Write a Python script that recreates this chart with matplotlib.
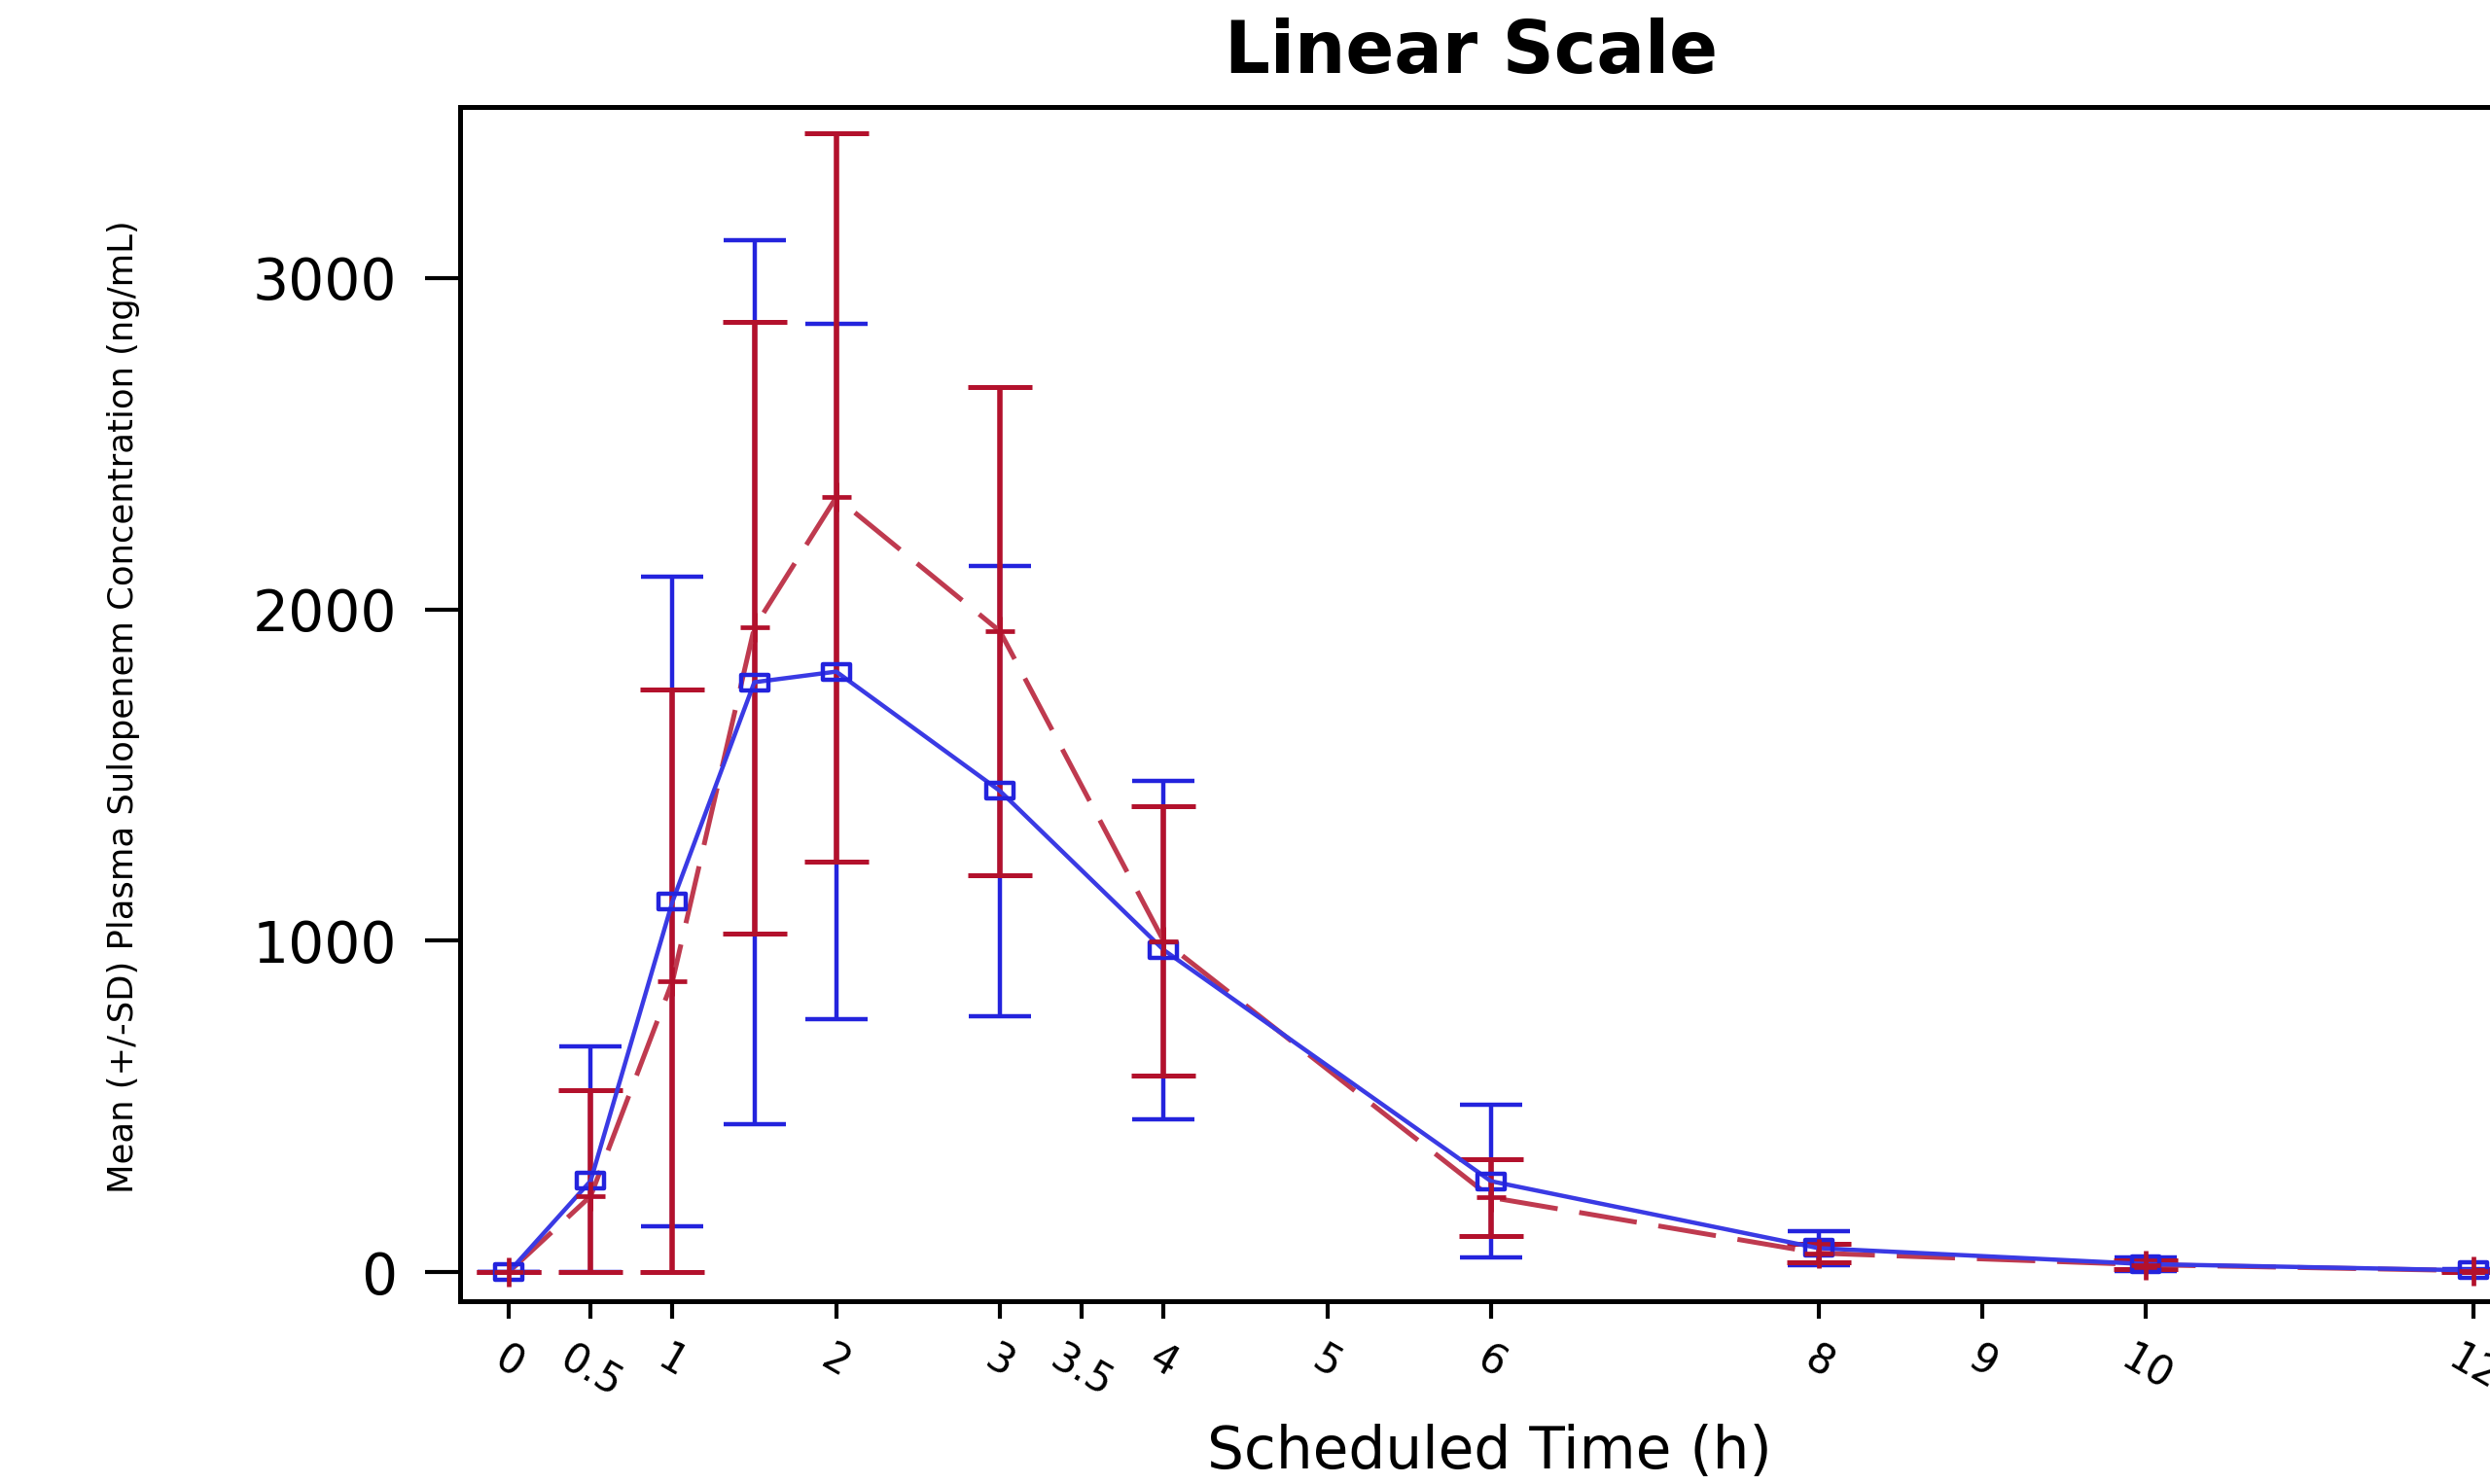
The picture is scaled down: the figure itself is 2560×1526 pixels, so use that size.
import numpy as np
import matplotlib
matplotlib.use('Agg')
import matplotlib.pyplot as plt
from matplotlib import font_manager
from matplotlib.path import Path

# scheduled sampling times (h) and the two treatment groups
time = [0, 0.5, 1, 1.5, 2, 3, 4, 6, 8, 10, 12]
blue_mean = [0, 275, 1118, 1780, 1812, 1452, 972, 274, 72, 24, 5]
blue_sd = [0, 405, 980, 1333, 1050, 680, 510, 230, 52, 20, 4]
red_mean = [0, 229, 878, 1945, 2338, 1934, 999, 225, 57, 22, 4]
red_sd = [0, 321, 880, 923, 1100, 737, 407, 115, 27, 14, 3]

xticks = [0, 0.5, 1, 2, 3, 3.5, 4, 5, 6, 8, 9, 10, 12]
xtick_labels = ['0', '0.5', '1', '2', '3', '3.5', '4', '5', '6', '8', '9', '10', '12']
yticks = [0, 1000, 2000, 3000]

BLUE = '#2323dd'
RED = '#b3112c'

installed = {f.name for f in font_manager.fontManager.ttflist}
if 'Liberation Sans Narrow' in installed:
    ylab_font, ylab_size = ['Liberation Sans Narrow', 'DejaVu Sans'], 32
else:
    ylab_font, ylab_size = ['DejaVu Sans'], 25.5

plt.rcParams['font.family'] = ['DejaVu Sans']

fig = plt.figure(figsize=(25.6, 15.26), dpi=100)
ax = fig.add_axes([0.1848, 0.1232, 0.8414, 0.8047])


def err_bounds(mean, sd):
    mean = np.array(mean, dtype=float)
    sd = np.array(sd, dtype=float)
    lower = np.minimum(sd, mean)  # bars stop at zero
    return np.vstack([lower, sd])


# box-ish marker, wider than tall like the original
rect = Path([(-1, -0.55), (1, -0.55), (1, 0.55), (-1, 0.55), (-1, -0.55)],
            [Path.MOVETO, Path.LINETO, Path.LINETO, Path.LINETO, Path.CLOSEPOLY])

ax.errorbar(time, blue_mean, yerr=err_bounds(blue_mean, blue_sd), fmt='none',
            ecolor=BLUE, elinewidth=3.2, capsize=23, capthick=3.2, zorder=2)
ax.errorbar(time, red_mean, yerr=err_bounds(red_mean, red_sd), fmt='none',
            ecolor=RED, elinewidth=4.0, capsize=23.5, capthick=3.6, zorder=3)

ax.plot(time, red_mean, color='#bf3a4f', lw=3.6, dashes=(12, 4.5), zorder=4)
ax.plot(time, blue_mean, color='#3a3ae4', lw=3.2, marker=rect, markersize=20,
        markerfacecolor='none', markeredgecolor=BLUE, markeredgewidth=3.2, zorder=5)
ax.plot(time, red_mean, linestyle='none', marker='+', markersize=21,
        markeredgecolor=RED, markeredgewidth=3.4, zorder=6)

ax.set_xlim(-0.297, 12.5)
ax.set_ylim(-88, 3516)

ax.set_xticks(xticks)
ax.set_xticklabels(xtick_labels, rotation=-30, ha='center', va='top', fontsize=30)
ax.set_yticks(yticks)
ax.set_yticklabels([str(v) for v in yticks], fontsize=42)

ax.tick_params(axis='x', direction='out', length=13, width=3, pad=14)
ax.tick_params(axis='y', direction='out', length=26, width=3, pad=21)
for side in ['left', 'bottom', 'top', 'right']:
    ax.spines[side].set_linewidth(3.6)

fig.text(0.591, 0.964, 'Linear Scale', ha='center', va='center',
         fontsize=53, fontweight='bold')
fig.text(0.598, 0.021, 'Scheduled Time (h)', ha='center', va='center', fontsize=43)
fig.text(0.0496, 0.524, 'Mean (+/-SD) Plasma Sulopenem Concentration (ng/mL)',
         ha='center', va='center', rotation=90, fontsize=ylab_size, family=ylab_font)

fig.savefig('out.png', dpi=100)
